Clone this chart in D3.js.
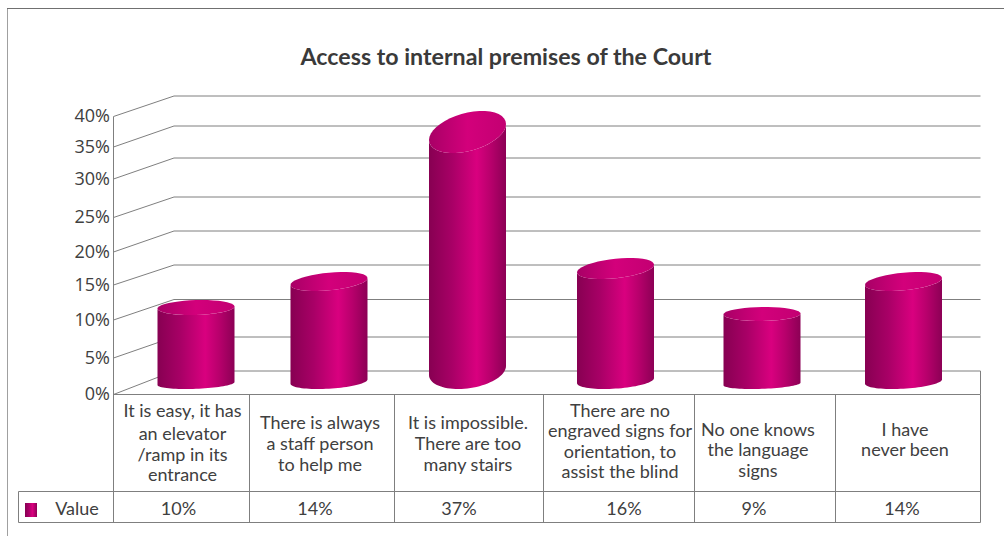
<!DOCTYPE html>
<html><head><meta charset="utf-8">
<script src="https://cdnjs.cloudflare.com/ajax/libs/d3/7.8.5/d3.min.js"></script>
<style>html,body{margin:0;background:#fff}svg{display:block}</style></head>
<body><svg id="c" width="1004" height="536"></svg>
<script>
const title = "Access to internal premises of the Court";
const categories = [
  ["It is easy, it has","an elevator","/ramp in its","entrance"],
  ["There is always","a staff person","to help me"],
  ["It is impossible.","There are too","many stairs"],
  ["There are no","engraved signs for","orientation, to","assist the blind"],
  ["No one knows","the language","signs"],
  ["I have","never been"]
];
const values = [10,14,37,16,9,14];
const seriesName = "Value";
const tickValues = [0,5,10,15,20,25,30,35,40];

// Oblique walls: front edge, back edge and the plane through the cylinder tops.
const yFront = d3.scaleLinear().domain(tickValues).range([394.5,358,320,285,252,217.5,179,147,116.5]);
const yBack = d3.scaleLinear().domain(tickValues).range([371,337,299.5,265,231,197,158,126,96]);
const yTop = d3.scaleLinear().domain([0,40]).range([372.5,112.5]);
// Cylinders foreshorten with height: cap and base grow as the value rises.
const capHalf = d3.scaleLinear().domain([10,37]).range([7.5,21]);
const capTilt = d3.scaleLinear().domain([9,14,37]).range([1,7,16]);
const baseHalf = d3.scaleLinear().domain([10,37]).range([5.5,18.5]);
const baseTilt = d3.scaleLinear().domain([10,16,37]).range([3,5,9]);
const baseLow = 389;

const colEdges = [113.5,249.5,394.5,543.5,694.5,835.5,980.5];
const barCenters = [196,329,467.5,615.5,762,903.5];
const barHalf = 38.5;
const labelCenters = [182.5,320,468,620,758,905];
const labelBaselines = [[417,440,461,481],[429,450,471],[429,450,471],[417,437,458,478],[436,456,477],[436,456]];
const valueCenters = [178.5,315,459,624,754,902];

const svg = d3.select("#c");
const line = "#7f7f7f", text = "#404040";
const defs = svg.append("defs");
const grad = defs.append("linearGradient").attr("id","side");
[[0,"#870052"],[.3,"#a80066"],[.62,"#d9007f"],[.8,"#b8006c"],[1,"#8c0055"]].forEach(([o,c])=>grad.append("stop").attr("offset",o).attr("stop-color",c));
const gradTop = defs.append("linearGradient").attr("id","top");
[[0,"#a80066"],[.5,"#d3007b"],[1,"#c30072"]].forEach(([o,c])=>gradTop.append("stop").attr("offset",o).attr("stop-color",c));

// outer frame
svg.append("path").attr("d","M7.5,536V8.5").attr("fill","none").attr("stroke","#a0a0a0");
svg.append("path").attr("d","M7,8.5H1004").attr("fill","none").attr("stroke","#707070");
svg.append("text").attr("x",506).attr("y",65).attr("text-anchor","middle")
  .attr("font-family","Lato").attr("font-weight","700").attr("font-size",23.2).attr("fill","#3a3a3a").text(title);

const right = colEdges[colEdges.length-1], backX = 174;
const g = svg.append("g").attr("fill","none").attr("stroke",line);
g.selectAll("path.grid").data(tickValues).join("path").attr("class","grid")
  .attr("d",v=>`M113.5,${yFront(v)}L${backX},${yBack(v)}H${right}`);
g.append("path").attr("d",`M113.5,${yFront(40)}V522.5`);
g.append("path").attr("d",`M${right},${yBack(0)}V${yFront(0)}`);

// y tick labels
svg.append("g").selectAll("text").data(tickValues).join("text")
  .attr("x",110).attr("y",v=>yFront(v)+5.5).attr("text-anchor","end")
  .attr("font-family","Open Sans").attr("font-size",18).attr("fill",text).text(v=>v+"%");

// data table rules
g.append("path").attr("d",`M113.5,${yFront(0)}H${right}V522.5H18.5V491.5H${right}`);
g.selectAll("path.col").data(colEdges.slice(1,-1)).join("path").attr("class","col")
  .attr("d",x=>`M${x},${yFront(0)}V522.5`);

// A sheared ellipse arc from t0 to t1: its ends stay on the cylinder walls.
function arc(cx, cy, rx, half, tilt, t0, t1){
  const ry = Math.sqrt(Math.max(half*half - tilt*tilt/4, 1));
  return d3.range(0,41).map(k=>{
    const t = t0 + (t1-t0)*k/40;
    return [cx + rx*Math.cos(t), cy - tilt/2*Math.cos(t) + ry*Math.sin(t)];
  });
}
const bars = svg.append("g").selectAll("g").data(values).join("g");
const pathOf = d3.line();
// wall: down the left edge, along the front of the base, up the right edge
bars.append("path").attr("fill","url(#side)").attr("d",(v,i)=>{
  const cx = barCenters[i], bh = baseHalf(v), by = baseLow - bh;
  const cy = yTop(v), h = capHalf(v), t = capTilt(v);
  const bottom = arc(cx,by,barHalf,bh,baseTilt(v),Math.PI,0);
  const lip = arc(cx,cy,barHalf,h,t,0,Math.PI);
  return pathOf(bottom.concat(lip))+"Z";
});
// cap
bars.append("path").attr("fill","url(#top)").attr("d",(v,i)=>
  pathOf(arc(barCenters[i],yTop(v),barHalf,capHalf(v),capTilt(v),0,2*Math.PI))+"Z");

// category labels
const tg = svg.append("g").attr("font-family","Lato").attr("font-size",18).attr("fill",text).attr("text-anchor","middle");
categories.forEach((lines,i)=>lines.forEach((s,k)=>
  tg.append("text").attr("x",labelCenters[i]).attr("y",labelBaselines[i][k]).text(s)));
// table values and legend
tg.selectAll("text.val").data(values).join("text").attr("class","val")
  .attr("x",(d,i)=>valueCenters[i]).attr("y",515).text(d=>d+"%");
svg.append("rect").attr("x",25).attr("y",503).attr("width",12).attr("height",14).attr("fill","url(#side)");
tg.append("text").attr("x",77).attr("y",515).text(seriesName);
</script></body></html>
